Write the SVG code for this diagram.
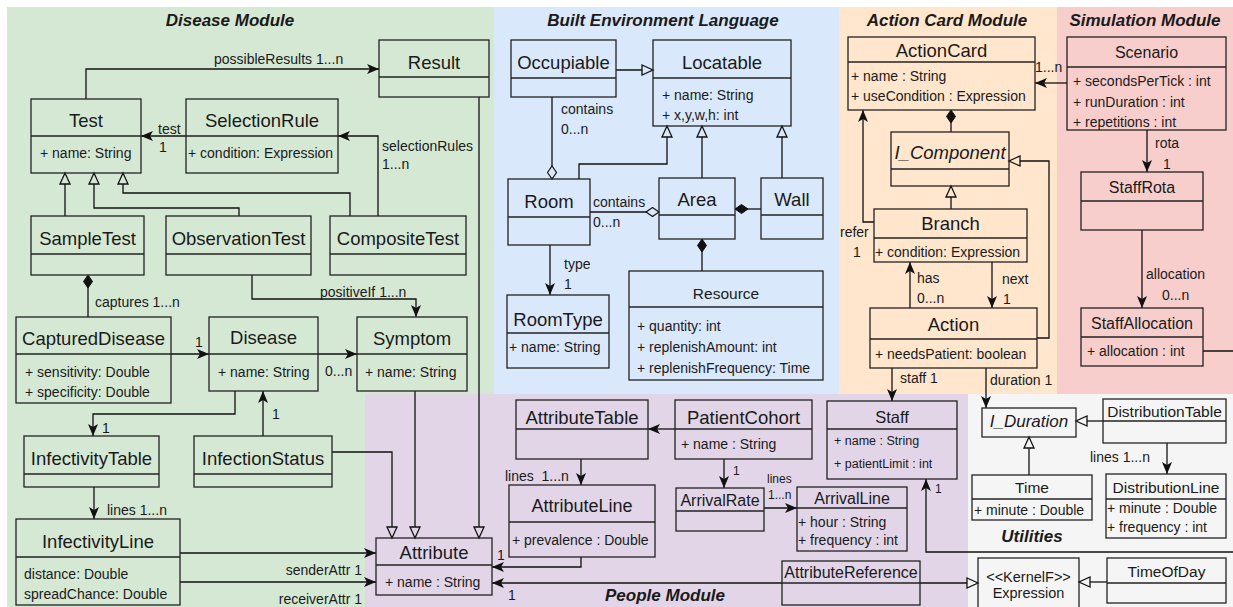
<svg xmlns="http://www.w3.org/2000/svg" width="1233" height="607" viewBox="0 0 1233 607">
<style>
text{font-family:"Liberation Sans",Arial,Helvetica,sans-serif;fill:#1a1a1a}
.bx{fill:none;stroke:#222;stroke-width:1.3}
.dv{stroke:#222;stroke-width:1.3}
.cn{font-size:18.5px;text-anchor:middle}
.cm{font-size:16px;text-anchor:middle}
.cs{font-size:15.5px;text-anchor:middle}
.it{font-style:italic}
.at{font-size:14px}
.as{font-size:12.5px}
.lb{font-size:14px}
.ls{font-size:12px}
.ttl{font-size:17px;font-weight:bold;font-style:italic;text-anchor:middle}
.ln{fill:none;stroke:#111;stroke-width:1.3}
.a{marker-end:url(#arr)}
</style>
<defs>
<marker id="arr" viewBox="0 0 12 10" refX="12" refY="5" markerWidth="12" markerHeight="10" orient="auto" markerUnits="userSpaceOnUse"><path d="M0,0 L12,5 L0,10 L3,5 z" fill="#111"/></marker>
<marker id="triG" viewBox="-1 -1 14 13" refX="11" refY="5" markerWidth="14" markerHeight="13" orient="auto" markerUnits="userSpaceOnUse"><path d="M0,0 L11,5 L0,10 z" fill="#d5e8d4" stroke="#111" stroke-width="1.3"/></marker>
<marker id="triP" viewBox="-1 -1 14 13" refX="11" refY="5" markerWidth="14" markerHeight="13" orient="auto" markerUnits="userSpaceOnUse"><path d="M0,0 L11,5 L0,10 z" fill="#e1d5e7" stroke="#111" stroke-width="1.3"/></marker>
<marker id="triB" viewBox="-1 -1 14 13" refX="11" refY="5" markerWidth="14" markerHeight="13" orient="auto" markerUnits="userSpaceOnUse"><path d="M0,0 L11,5 L0,10 z" fill="#dae8fc" stroke="#111" stroke-width="1.3"/></marker>
<marker id="triO" viewBox="-1 -1 14 13" refX="11" refY="5" markerWidth="14" markerHeight="13" orient="auto" markerUnits="userSpaceOnUse"><path d="M0,0 L11,5 L0,10 z" fill="#ffe6cc" stroke="#111" stroke-width="1.3"/></marker>
<marker id="triY" viewBox="-1 -1 14 13" refX="11" refY="5" markerWidth="14" markerHeight="13" orient="auto" markerUnits="userSpaceOnUse"><path d="M0,0 L11,5 L0,10 z" fill="#f5f5f5" stroke="#111" stroke-width="1.3"/></marker>
<marker id="dia" viewBox="-1 -1 15 11" refX="13" refY="4.5" markerWidth="15" markerHeight="11" orient="auto" markerUnits="userSpaceOnUse"><path d="M0,4.5 L6.5,0 L13,4.5 L6.5,9 z" fill="#111" stroke="#111" stroke-width="1"/></marker>
<marker id="diaB" viewBox="-1 -1 15 11" refX="13" refY="4.5" markerWidth="15" markerHeight="11" orient="auto" markerUnits="userSpaceOnUse"><path d="M0,4.5 L6.5,0 L13,4.5 L6.5,9 z" fill="#dae8fc" stroke="#111" stroke-width="1.2"/></marker>
</defs>

<g id="regions">
<rect x="7" y="7" width="487" height="600" fill="#d5e8d4"/>
<rect x="494" y="7" width="345" height="387" fill="#dae8fc"/>
<rect x="839" y="7" width="218" height="387" fill="#ffe6cc"/>
<rect x="1057" y="7" width="176" height="387" fill="#f8cecc"/>
<rect x="365" y="394" width="603" height="213" fill="#e1d5e7"/>
<rect x="968" y="394" width="265" height="213" fill="#f5f5f5"/>
</g>

<g id="titles">
<text class="ttl" x="230" y="26">Disease Module</text>
<text class="ttl" x="663" y="26">Built Environment Language</text>
<text class="ttl" x="947" y="26">Action Card Module</text>
<text class="ttl" x="1145" y="26">Simulation Module</text>
<text class="ttl" x="665" y="601">People Module</text>
<text class="ttl" x="1032" y="542">Utilities</text>
</g>

<g id="connectors">
<path class="ln a" d="M86,99 V69 H379"/>
<path class="ln a" d="M186,136 H141"/>
<path class="ln a" d="M378,216 V136 H338"/>
<path class="ln" d="M65,216 V173" marker-end="url(#triG)"/>
<path class="ln" d="M239,216 V208 H94 V173" marker-end="url(#triG)"/>
<path class="ln" d="M350,216 V193 H123 V173" marker-end="url(#triG)"/>
<path class="ln" d="M88,317 V275" marker-end="url(#dia)"/>
<path class="ln a" d="M252,275 V299 H416 V317"/>
<path class="ln" d="M479,97 V538" marker-end="url(#triP)"/>
<path class="ln a" d="M171,354 H209"/>
<path class="ln a" d="M318,354 H357"/>
<path class="ln a" d="M235,391 V414 H93 V436"/>
<path class="ln a" d="M263,436 V391"/>
<path class="ln a" d="M94,487 V519"/>
<path class="ln a" d="M180,553 H376"/>
<path class="ln a" d="M180,582 H376"/>
<path class="ln" d="M332,452 H392 V538" marker-end="url(#triP)"/>
<path class="ln" d="M415,391 V538" marker-end="url(#triP)"/>

<path class="ln a" d="M675,429 H648"/>
<path class="ln a" d="M581,459 V485"/>
<path class="ln a" d="M581,557 V567 H492"/>
<path class="ln a" d="M782,583 H492"/>
<path class="ln a" d="M724,459 V488"/>
<path class="ln a" d="M764,508 H797"/>
<path class="ln a" d="M892,368 V401"/>
<path class="ln a" d="M986,368 V408"/>
<path class="ln a" d="M1203,351 H1245 V552 H926 V479"/>
<path class="ln" d="M920,583 H978" marker-end="url(#triY)"/>
<path class="ln" d="M1107,582 H1079" marker-end="url(#triY)"/>
<path class="ln" d="M1103,421 H1076" marker-end="url(#triY)"/>
<path class="ln" d="M1029,475 V437" marker-end="url(#triY)"/>
<path class="ln a" d="M1167,443 V474"/>

<path class="ln" d="M616,70 H653" marker-end="url(#triB)"/>
<path class="ln" d="M552,97 V179" marker-end="url(#diaB)"/>
<path class="ln" d="M579,179 V164 H667 V126" marker-end="url(#triB)"/>
<path class="ln" d="M702,178 V126" marker-end="url(#triB)"/>
<path class="ln" d="M782,178 V126" marker-end="url(#triB)"/>
<path class="ln" d="M761,209 H735" marker-end="url(#dia)"/>
<path class="ln" d="M590,212 H659" marker-end="url(#diaB)"/>
<path class="ln a" d="M550,245 V295"/>
<path class="ln" d="M702,271 V239" marker-end="url(#dia)"/>

<path class="ln" d="M951,132 V110" marker-end="url(#dia)"/>
<path class="ln" d="M951,209 V186" marker-end="url(#triO)"/>
<path class="ln a" d="M874,222 H863 V110"/>
<path class="ln a" d="M910,308 V262"/>
<path class="ln a" d="M992,262 V308"/>
<path class="ln" d="M1037,338 H1049 V161 H1009" marker-end="url(#triO)"/>
<path class="ln a" d="M1067,83 H1035"/>
<path class="ln a" d="M1147,130 V172"/>
<path class="ln a" d="M1142,230 V308"/>
</g>

<g id="connector-labels">
<text class="lb" x="214" y="64">possibleResults 1...n</text>
<text class="lb" x="158" y="134">test</text>
<text class="lb" x="159" y="152">1</text>
<text class="lb" x="382" y="151">selectionRules</text>
<text class="lb" x="382" y="169">1...n</text>
<text class="lb" x="95" y="307">captures 1...n</text>
<text class="lb" x="320" y="297">positiveIf 1...n</text>
<text class="lb" x="195" y="347">1</text>
<text class="lb" x="325" y="376">0...n</text>
<text class="lb" x="102" y="433">1</text>
<text class="lb" x="272" y="419">1</text>
<text class="lb" x="107" y="515">lines 1...n</text>
<text class="lb" x="362" y="575" text-anchor="end">senderAttr 1</text>
<text class="lb" x="362" y="604" text-anchor="end">receiverAttr 1</text>
<text class="lb" x="505" y="481">lines&#160; 1...n</text>
<text class="lb" x="497" y="560">1</text>
<text class="lb" x="508" y="600">1</text>
<text class="ls" x="733" y="475">1</text>
<text class="ls" x="767" y="483">lines</text>
<text class="ls" x="768" y="499">1...n</text>
<text class="lb" x="900" y="383">staff 1</text>
<text class="lb" x="990" y="385">duration 1</text>
<text class="ls" x="935" y="493">1</text>
<text class="lb" x="1090" y="462">lines 1...n</text>
<text class="lb" x="561" y="114">contains</text>
<text class="lb" x="561" y="134">0...n</text>
<text class="lb" x="593" y="207">contains</text>
<text class="lb" x="593" y="227">0...n</text>
<text class="lb" x="564" y="269">type</text>
<text class="lb" x="564" y="289">1</text>
<text class="lb" x="840" y="237">refer</text>
<text class="lb" x="853" y="257">1</text>
<text class="lb" x="917" y="283">has</text>
<text class="lb" x="917" y="303">0...n</text>
<text class="lb" x="1002" y="284">next</text>
<text class="lb" x="1003" y="304">1</text>
<text class="lb" x="1035" y="72">1...n</text>
<text class="lb" x="1155" y="148">rota</text>
<text class="lb" x="1163" y="169">1</text>
<text class="lb" x="1146" y="279">allocation</text>
<text class="lb" x="1162" y="300">0...n</text>
</g>

<g id="Result"><rect class="bx" x="379" y="40" width="110" height="57"/><line class="dv" x1="379" y1="77" x2="489" y2="77"/><text class="cn" x="434" y="68.5">Result</text></g>
<g id="Test"><rect class="bx" x="31" y="99" width="110" height="74"/><line class="dv" x1="31" y1="136" x2="141" y2="136"/><text class="cn" x="86" y="126.5">Test</text><text class="at" x="40" y="158">+ name: String</text></g>
<g id="SelectionRule"><rect class="bx" x="186" y="99" width="152" height="74"/><line class="dv" x1="186" y1="136" x2="338" y2="136"/><text class="cn" x="262" y="126.5">SelectionRule</text><text class="at" x="188" y="158">+ condition: Expression</text></g>
<g id="SampleTest"><rect class="bx" x="31" y="216" width="113" height="59"/><line class="dv" x1="31" y1="254" x2="144" y2="254"/><text class="cn" x="87.5" y="244.5">SampleTest</text></g>
<g id="ObservationTest"><rect class="bx" x="166" y="216" width="145" height="59"/><line class="dv" x1="166" y1="254" x2="311" y2="254"/><text class="cn" x="238.5" y="244.5">ObservationTest</text></g>
<g id="CompositeTest"><rect class="bx" x="330" y="216" width="136" height="59"/><line class="dv" x1="330" y1="254" x2="466" y2="254"/><text class="cn" x="398" y="244.5">CompositeTest</text></g>
<g id="CapturedDisease"><rect class="bx" x="16" y="317" width="155" height="86"/><line class="dv" x1="16" y1="354" x2="171" y2="354"/><text class="cn" x="93.5" y="344.5">CapturedDisease</text><text class="at" x="25" y="377">+ sensitivity: Double</text><text class="at" x="25" y="397">+ specificity: Double</text></g>
<g id="Disease"><rect class="bx" x="209" y="317" width="109" height="74"/><line class="dv" x1="209" y1="354" x2="318" y2="354"/><text class="cn" x="263.5" y="343.5">Disease</text><text class="at" x="218" y="377">+ name: String</text></g>
<g id="Symptom"><rect class="bx" x="357" y="317" width="110" height="74"/><line class="dv" x1="357" y1="354" x2="467" y2="354"/><text class="cn" x="412" y="344.5">Symptom</text><text class="at" x="365" y="377">+ name: String</text></g>
<g id="InfectivityTable"><rect class="bx" x="24" y="436" width="135" height="51"/><line class="dv" x1="24" y1="474" x2="159" y2="474"/><text class="cn" x="91.5" y="464.5">InfectivityTable</text></g>
<g id="InfectionStatus"><rect class="bx" x="194" y="436" width="138" height="51"/><line class="dv" x1="194" y1="474" x2="332" y2="474"/><text class="cn" x="263" y="464.5">InfectionStatus</text></g>
<g id="InfectivityLine"><rect class="bx" x="16" y="519" width="164" height="86"/><line class="dv" x1="16" y1="557" x2="180" y2="557"/><text class="cn" x="98" y="547.5">InfectivityLine</text><text class="at" x="24" y="579">distance: Double</text><text class="at" x="24" y="599">spreadChance: Double</text></g>
<g id="Attribute"><rect class="bx" x="376" y="538" width="116" height="57"/><line class="dv" x1="376" y1="565" x2="492" y2="565"/><text class="cn" x="434" y="558.5">Attribute</text><text class="at" x="385" y="587">+ name : String</text></g>

<g id="Occupiable"><rect class="bx" x="511" y="40" width="105" height="57"/><line class="dv" x1="511" y1="78" x2="616" y2="78"/><text class="cn" x="563.5" y="68.5">Occupiable</text></g>
<g id="Locatable"><rect class="bx" x="653" y="40" width="138" height="86"/><line class="dv" x1="653" y1="78" x2="791" y2="78"/><text class="cn" x="722" y="68.5">Locatable</text><text class="at" x="662" y="100">+ name: String</text><text class="at" x="662" y="120">+ x,y,w,h: int</text></g>
<g id="Room"><rect class="bx" x="508" y="179" width="82" height="66"/><line class="dv" x1="508" y1="217" x2="590" y2="217"/><text class="cn" x="549" y="207.5">Room</text></g>
<g id="Area"><rect class="bx" x="659" y="178" width="76" height="61"/><line class="dv" x1="659" y1="215" x2="735" y2="215"/><text class="cn" x="697" y="205.5">Area</text></g>
<g id="Wall"><rect class="bx" x="761" y="178" width="62" height="61"/><line class="dv" x1="761" y1="215" x2="823" y2="215"/><text class="cn" x="792" y="205.5">Wall</text></g>
<g id="RoomType"><rect class="bx" x="507" y="295" width="102" height="73"/><line class="dv" x1="507" y1="333" x2="609" y2="333"/><text class="cn" x="558" y="325.5">RoomType</text><text class="at" x="509" y="352">+ name: String</text></g>
<g id="Resource"><rect class="bx" x="629" y="271" width="194" height="109"/><line class="dv" x1="629" y1="307" x2="823" y2="307"/><text class="cs" x="726" y="298.5">Resource</text><text class="at" x="637" y="331">+ quantity: int</text><text class="at" x="637" y="352">+ replenishAmount: int</text><text class="at" x="637" y="373">+ replenishFrequency: Time</text></g>

<g id="ActionCard"><rect class="bx" x="848" y="37" width="187" height="73"/><line class="dv" x1="848" y1="62" x2="1035" y2="62"/><text class="cn" x="941.5" y="56.5">ActionCard</text><text class="at" x="851" y="81">+ name : String</text><text class="at" x="851" y="101">+ useCondition : Expression</text></g>
<g id="I_Component"><rect class="bx" x="891" y="132" width="118" height="54"/><line class="dv" x1="891" y1="169" x2="1009" y2="169"/><text class="cn it" x="950" y="158.5">I_Component</text></g>
<g id="Branch"><rect class="bx" x="874" y="209" width="153" height="53"/><line class="dv" x1="874" y1="238" x2="1027" y2="238"/><text class="cn" x="950.5" y="229.5">Branch</text><text class="at" x="875" y="257">+ condition: Expression</text></g>
<g id="Action"><rect class="bx" x="870" y="308" width="167" height="60"/><line class="dv" x1="870" y1="339" x2="1037" y2="339"/><text class="cn" x="953.5" y="330.5">Action</text><text class="at" x="875" y="359">+ needsPatient: boolean</text></g>

<g id="Scenario"><rect class="bx" x="1067" y="37" width="159" height="93"/><line class="dv" x1="1067" y1="67" x2="1226" y2="67"/><text class="cm" x="1146.5" y="57.5">Scenario</text><text class="at" x="1073" y="86">+ secondsPerTick : int</text><text class="at" x="1073" y="107">+ runDuration : int</text><text class="at" x="1073" y="127">+ repetitions : int</text></g>
<g id="StaffRota"><rect class="bx" x="1081" y="172" width="122" height="58"/><line class="dv" x1="1081" y1="201" x2="1203" y2="201"/><text class="cm" x="1142" y="192.5">StaffRota</text></g>
<g id="StaffAllocation"><rect class="bx" x="1081" y="308" width="122" height="58"/><line class="dv" x1="1081" y1="337" x2="1203" y2="337"/><text class="cm" x="1142" y="328.5">StaffAllocation</text><text class="at" x="1087" y="356">+ allocation : int</text></g>

<g id="AttributeTable"><rect class="bx" x="516" y="400" width="132" height="59"/><line class="dv" x1="516" y1="429" x2="648" y2="429"/><text class="cn" x="582" y="423.5">AttributeTable</text></g>
<g id="PatientCohort"><rect class="bx" x="675" y="400" width="137" height="59"/><line class="dv" x1="675" y1="429" x2="812" y2="429"/><text class="cn" x="743.5" y="423.5">PatientCohort</text><text class="at" x="681" y="449">+ name : String</text></g>
<g id="AttributeLine"><rect class="bx" x="509" y="485" width="146" height="72"/><line class="dv" x1="509" y1="522" x2="655" y2="522"/><text class="cn" x="582" y="511.5" style="font-size:18px">AttributeLine</text><text class="at" x="512" y="545">+ prevalence : Double</text></g>
<g id="ArrivalRate"><rect class="bx" x="676" y="488" width="88" height="43"/><line class="dv" x1="676" y1="511" x2="764" y2="511"/><text class="cm" x="720" y="505.5">ArrivalRate</text></g>
<g id="ArrivalLine"><rect class="bx" x="797" y="487" width="110" height="64"/><line class="dv" x1="797" y1="508" x2="907" y2="508"/><text class="cm" x="852" y="504">ArrivalLine</text><text class="at" x="798" y="527">+ hour : String</text><text class="at" x="798" y="545">+ frequency : int</text></g>
<g id="Staff"><rect class="bx" x="827" y="401" width="130" height="78"/><line class="dv" x1="827" y1="429" x2="957" y2="429"/><text class="cm" x="892" y="423" style="font-size:16.5px">Staff</text><text class="as" x="834" y="444.5">+ name : String</text><text class="as" x="834" y="467.5">+ patientLimit : int</text></g>
<g id="AttributeReference"><rect class="bx" x="782" y="561" width="138" height="44"/><line class="dv" x1="782" y1="583" x2="920" y2="583"/><text class="cm" x="851" y="578">AttributeReference</text></g>

<g id="I_Duration"><rect class="bx" x="982" y="408" width="94" height="29"/><text class="it" x="1029" y="427" style="font-size:17px;text-anchor:middle">I_Duration</text></g>
<g id="DistributionTable"><rect class="bx" x="1103" y="399" width="123" height="44"/><line class="dv" x1="1103" y1="421" x2="1226" y2="421"/><text class="cs" x="1164.5" y="417">DistributionTable</text></g>
<g id="Time"><rect class="bx" x="972" y="475" width="120" height="45"/><line class="dv" x1="972" y1="499" x2="1092" y2="499"/><text class="cs" x="1032" y="493">Time</text><text class="at" x="974" y="515">+ minute : Double</text></g>
<g id="DistributionLine"><rect class="bx" x="1106" y="474" width="120" height="64"/><line class="dv" x1="1106" y1="499" x2="1226" y2="499"/><text class="cs" x="1166" y="493">DistributionLine</text><text class="at" x="1107" y="513">+ minute : Double</text><text class="at" x="1107" y="532">+ frequency : int</text></g>
<g id="Expression"><rect class="bx" x="978" y="558" width="101" height="52"/><text x="1028.5" y="582" style="font-size:14.5px;text-anchor:middle">&lt;&lt;KernelF&gt;&gt;</text><text x="1028.5" y="598" style="font-size:14.5px;text-anchor:middle">Expression</text></g>
<g id="TimeOfDay"><rect class="bx" x="1107" y="558" width="119" height="45"/><line class="dv" x1="1107" y1="583" x2="1226" y2="583"/><text class="cs" x="1166.5" y="577">TimeOfDay</text></g>
</svg>
